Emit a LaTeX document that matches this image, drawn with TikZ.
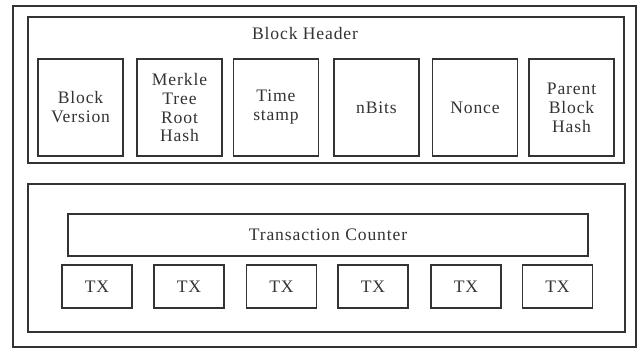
\documentclass[tikz,border=0pt]{standalone}
\usepackage{fontspec}
\setmainfont{Liberation Serif}[LetterSpace=5]
\usepackage{tikz}
\usetikzlibrary{positioning}
\definecolor{boxgray}{rgb}{0.2, 0.2, 0.2}
\tikzset{
    frame/.style={draw=boxgray, line width=0.9pt, rectangle, inner sep=0pt},
    label text/.style={font=\fontsize{12.5}{13.5}\selectfont, text=boxgray},
    field/.style={frame, label text, minimum width=2.125cm, minimum height=2.425cm, align=center},
    txbox/.style={frame, label text, minimum width=1.75cm, minimum height=1.075cm},
}

\begin{document}
\begin{tikzpicture}[x=0.025cm, y=-0.025cm]
    \useasboundingbox (0,0) rectangle (640,349);
    \node[frame, minimum width=15.575cm, minimum height=8.525cm] (block) at (324.5,176.5) {};

    % Header part
    \node[frame, minimum width=14.9cm, minimum height=3.65cm] (header) at (326,90) {};
    \node[label text] (title) at (305,33) {Block Header};
    \node[field] (f1) at (80.5,107.5) {Block\\Version};
    \node[field] (f2) at (179.5,107.5) {Merkle\\Tree\\Root\\Hash};
    \node[field] (f3) at (276,107.5) {Time\\stamp};
    \node[field] (f4) at (376.5,107.5) {nBits};
    \node[field] (f5) at (475,107.5) {Nonce};
    \node[field] (f6) at (571.5,107.5) {Parent\\Block\\Hash};

    % Body part
    \node[frame, minimum width=14.925cm, minimum height=3.7cm] (body) at (326.5,258) {};
    \node[frame, label text, minimum width=13cm, minimum height=1.05cm] (counter) at (328,235) {Transaction Counter};
    \node[txbox] (t1) at (97,286.5) {TX};
    \node[txbox] (t2) at (189,286.5) {TX};
    \node[txbox] (t3) at (281.5,286.5) {TX};
    \node[txbox] (t4) at (373,286.5) {TX};
    \node[txbox] (t5) at (466,286.5) {TX};
    \node[txbox] (t6) at (557.5,286.5) {TX};
\end{tikzpicture}
\end{document}
